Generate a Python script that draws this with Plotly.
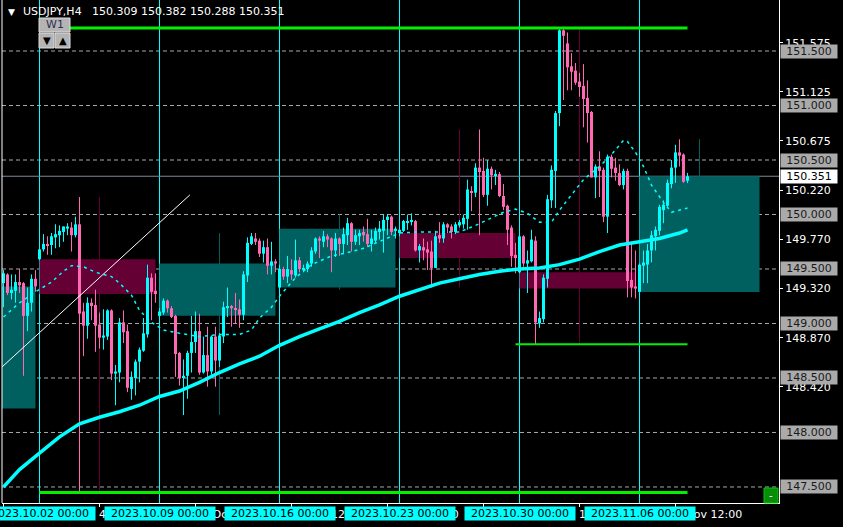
import plotly.graph_objects as go

# ---------------- data (USDJPY H4) ----------------
bar_index = list(range(-9, 163))   # bar 0 = 2023.10.02 00:00, 6 bars/day, 30 bars/week

opens = [
149.37,149.45,149.28,149.30,149.38,149.37,149.07,149.19,149.41,
149.59,149.68,149.73,149.72,149.79,149.81,149.84,149.87,149.88,149.81,
149.91,149.11,148.98,149.19,149.17,148.99,148.87,148.88,149.12,148.54,
148.55,149.01,148.93,148.40,148.50,148.65,148.75,148.90,149.42,149.30,
149.07,149.10,149.21,149.14,149.07,148.73,148.50,148.52,148.73,148.83,
148.93,148.55,148.71,148.56,148.88,148.66,148.88,149.14,149.16,149.14,
149.13,149.08,149.44,149.73,149.78,149.76,149.64,149.70,149.53,149.57,
149.33,149.50,149.43,149.49,149.44,149.58,149.49,149.50,149.55,149.66,
149.78,149.75,149.80,149.78,149.67,149.78,149.73,149.81,149.92,149.75,
149.80,149.84,149.82,149.73,149.76,149.84,149.85,149.95,149.98,149.85,
149.83,149.85,149.93,149.94,149.94,149.67,149.70,149.68,149.66,149.51,
149.81,149.78,149.91,149.89,149.84,149.90,149.91,149.96,150.21,150.20,
150.43,150.40,150.18,150.42,150.36,150.37,150.17,150.08,149.88,149.63,
149.47,149.80,149.55,149.57,149.76,149.00,149.04,149.41,150.13,150.40,
150.93,151.69,151.57,151.36,151.32,151.22,151.18,151.07,150.94,150.34,
150.44,150.41,149.98,150.53,150.43,150.38,150.27,150.40,149.40,149.34,
149.29,149.53,149.54,149.67,149.80,149.85,150.04,150.08,150.28,150.43,
150.57,150.55,150.309]

highs = [
149.49,149.46,149.45,149.45,149.50,149.38,149.33,149.45,149.49,
149.69,149.82,149.80,149.83,149.91,149.90,149.89,149.92,149.93,149.98,
150.16,149.19,149.24,149.23,149.31,149.10,149.13,149.13,149.13,148.62,
149.05,149.12,148.99,148.56,148.67,148.78,149.05,149.54,149.46,149.46,
149.14,149.23,149.22,149.16,149.08,148.74,148.67,148.75,149.07,149.11,
149.09,148.88,148.97,148.89,148.97,148.91,149.20,149.33,149.17,149.28,
149.22,149.48,149.79,149.83,149.83,149.78,149.76,149.78,149.75,149.59,
149.54,149.52,149.62,149.59,149.77,149.61,149.54,149.57,149.70,149.79,
149.80,149.85,149.82,149.79,149.83,149.79,149.88,149.97,149.93,149.86,
149.86,149.89,149.96,149.86,149.88,149.94,150.00,150.00,149.99,149.89,
149.88,149.95,150.00,150.01,149.95,149.73,149.78,149.75,149.76,149.85,
149.93,149.93,149.92,149.91,149.93,149.95,150.00,150.32,150.26,150.47,
150.78,150.52,150.50,150.44,150.41,150.39,150.28,150.09,149.90,149.74,
149.81,149.81,149.67,149.86,149.80,149.11,149.45,150.18,150.45,150.95,
151.70,151.70,151.67,151.48,151.39,151.30,151.38,151.23,150.95,150.46,
150.58,150.43,150.55,150.55,150.52,150.46,150.42,150.42,149.75,149.67,
149.55,149.67,149.73,149.85,149.89,150.09,150.13,150.32,150.50,150.64,
150.69,150.56,150.382]

lows = [
149.15,149.26,149.22,149.19,149.28,148.52,148.93,149.11,149.29,
149.58,149.66,149.63,149.63,149.69,149.70,149.75,149.81,149.66,149.79,
147.45,148.70,148.86,149.03,148.74,148.77,148.76,148.85,148.48,148.25,
148.46,148.82,148.37,148.30,148.34,148.46,148.74,148.87,149.03,149.19,
149.05,149.08,149.10,149.05,148.51,148.43,148.16,148.31,148.55,148.73,
148.53,148.54,148.42,148.53,148.42,148.60,148.82,149.06,148.97,149.00,
148.96,149.03,149.38,149.72,149.72,149.61,149.56,149.45,149.45,149.47,
149.31,149.40,149.37,149.40,149.42,149.47,149.47,149.47,149.52,149.64,
149.60,149.70,149.70,149.47,149.61,149.62,149.64,149.72,149.66,149.72,
149.72,149.75,149.70,149.66,149.74,149.77,149.65,149.81,149.81,149.78,
149.80,149.84,149.86,149.90,149.66,149.56,149.58,149.49,149.33,149.51,
149.74,149.74,149.83,149.78,149.82,149.88,149.87,149.86,150.03,150.16,
149.81,150.16,150.08,150.23,150.27,150.16,150.04,149.72,149.52,149.46,
149.46,149.52,149.28,149.56,148.81,148.96,149.01,149.33,150.06,150.06,
150.81,151.05,151.14,151.14,151.19,151.08,150.80,150.66,150.34,150.15,
150.16,149.93,149.83,150.34,150.31,150.26,150.23,149.24,149.24,149.23,
149.29,149.37,149.37,149.56,149.67,149.81,149.92,150.07,150.24,150.29,
150.44,150.29,150.288]

closes = [
149.46,149.28,149.31,149.38,149.35,149.07,149.19,149.41,149.34,
149.68,149.73,149.72,149.80,149.82,149.85,149.89,149.89,149.81,149.91,
149.09,148.98,149.19,149.16,148.98,148.87,148.89,149.12,148.54,148.56,
149.01,148.92,148.41,148.51,148.65,148.76,148.91,149.42,149.29,149.27,
149.11,149.21,149.14,149.06,148.72,148.50,148.52,148.73,148.83,148.93,
148.55,148.71,148.56,148.88,148.66,148.89,149.15,149.16,149.14,149.13,
149.08,149.45,149.74,149.80,149.75,149.64,149.70,149.53,149.57,149.55,
149.50,149.43,149.50,149.45,149.58,149.50,149.51,149.55,149.67,149.78,
149.76,149.80,149.77,149.67,149.78,149.73,149.82,149.92,149.75,149.81,
149.83,149.81,149.73,149.78,149.85,149.87,149.95,149.98,149.84,149.87,
149.86,149.94,149.94,149.95,149.67,149.71,149.67,149.65,149.51,149.80,
149.78,149.91,149.88,149.84,149.91,149.93,149.97,150.23,150.20,150.43,
150.39,150.18,150.42,150.36,150.37,150.17,150.07,149.86,149.62,149.60,
149.80,149.55,149.58,149.77,149.01,149.05,149.42,150.14,150.41,150.93,
151.69,151.64,151.35,151.31,151.21,151.17,151.06,150.93,150.34,150.44,
150.40,149.98,150.53,150.42,150.38,150.27,150.40,149.39,149.33,149.32,
149.54,149.56,149.67,149.81,149.86,150.07,150.09,150.29,150.43,150.57,
150.54,150.30,150.351]

# slow moving average (thick)
ma_slow_bar = [-9,-5,0,5,10,15,20,25,30,35,40,45,50,55,60,65,70,75,80,85,90,95,100,105,110,115,120,125,130,135,140,145,150,155,160,162]
ma_slow_val = [147.50,147.66,147.81,147.96,148.08,148.14,148.19,148.25,148.33,148.38,148.46,148.55,148.63,148.70,148.80,148.88,148.95,149.02,149.10,149.17,149.25,149.31,149.37,149.41,149.45,149.48,149.50,149.51,149.54,149.59,149.66,149.72,149.75,149.78,149.83,149.86]

# fast moving average (dashed)
ma_fast_bar = [-9,-5,-1,3,6,8,11,14,18,20,23,25,28,31,35,40,45,50,53,55,58,60,64,68,73,77,81,85,90,95,100,105,109,113,116,119,122,125,128,130,134,136,140,143,146,147,149,151,153,156,158,160,162]
ma_fast_val = [149.06,149.19,149.29,149.38,149.48,149.53,149.52,149.47,149.43,149.37,149.26,149.12,149.01,148.94,148.91,148.88,148.90,148.90,148.94,149.05,149.15,149.25,149.42,149.54,149.62,149.65,149.69,149.75,149.83,149.84,149.84,149.84,149.90,149.97,150.02,150.05,150.01,149.93,149.93,150.04,150.23,150.32,150.44,150.55,150.68,150.67,150.57,150.44,150.27,150.11,150.02,150.04,150.06]

week_start_bars = [-30, 0, 30, 60, 90, 120, 150]
week_labels = ["", "2023.10.02 00:00", "2023.10.09 00:00", "2023.10.16 00:00",
               "2023.10.23 00:00", "2023.10.30 00:00", "2023.11.06 00:00"]
prev_week_open = 148.22

time_tick_bars = [-9, 15, 39, 63, 87, 111, 135, 159]
time_tick_labels = ["28 Sep 12:00", "4 Oct 12:00", "10 Oct 12:00", "16 Oct 12:00",
                    "20 Oct 12:00", "26 Oct 12:00", "1 Nov 12:00", "7 Nov 12:00"]

price_ticks = [151.575, 151.125, 150.675, 150.220, 149.770, 149.320, 148.870, 148.420]
round_levels = [151.5, 151.0, 150.5, 150.0, 149.5, 149.0, 148.5, 148.0, 147.5]

range_high = 151.71
range_low = 147.45
week5_low = 148.81
trend_bar = [-9.4, 37.6]
trend_val = [148.60, 150.18]

last_price = closes[-1]

# ---------------- styling ----------------
UP = "#00FFFF"
DN = "#FF69B4"
TEAL = "#005F5F"
MAROON = "#640034"
FONT = "DejaVu Sans"

X0, X1 = -9.375, 184.875
Y0, Y1 = 147.353, 151.968

fig = go.Figure()
shapes = []
annotations = []

def px_x(p):   # pixel -> paper x
    return (p - 2) / 777.0

def px_y(p):   # pixel -> paper y
    return (503 - p) / 503.0

# weekly candles (box = open/close, line = high/low)
for wi, s in enumerate(week_start_bars):
    idx = [i for i, k in enumerate(bar_index) if s <= k < s + 30]
    if not idx:
        continue
    o = prev_week_open if s < bar_index[0] else opens[idx[0]]
    c = closes[idx[-1]]
    h = max(highs[i] for i in idx)
    l = min(lows[i] for i in idx)
    col = TEAL if c >= o else MAROON
    end = s + 30 if bar_index[idx[-1]] < s + 29 else s + 29
    if s >= bar_index[0]:
        shapes.append(dict(type="line", xref="x", yref="y", x0=s + 15, x1=s + 15, y0=l, y1=h,
                           line=dict(color=col, width=1), layer="below"))
    shapes.append(dict(type="rect", xref="x", yref="y", x0=s, x1=end, y0=o, y1=c,
                       fillcolor=col, line=dict(width=0), layer="below"))

# round level dashed lines
for lv in round_levels:
    shapes.append(dict(type="line", xref="paper", yref="y", x0=0, x1=1, y0=lv, y1=lv,
                       line=dict(color="#A8A8A8", width=1, dash="4px,3px"), layer="below"))

# week separators
for s in week_start_bars[1:]:
    shapes.append(dict(type="line", xref="x", yref="paper", x0=s, x1=s, y0=0, y1=1,
                       line=dict(color=UP, width=1), layer="below"))

# current price line
shapes.append(dict(type="line", xref="paper", yref="y", x0=0, x1=1, y0=last_price, y1=last_price,
                   line=dict(color="#7F8C9D", width=1), layer="below"))

# left border
shapes.append(dict(type="line", xref="paper", yref="paper", x0=0, x1=0, y0=0, y1=1,
                   line=dict(color="white", width=1)))

# candle wicks
for up in (True, False):
    xs, ys = [], []
    for k, o, h, l, c in zip(bar_index, opens, highs, lows, closes):
        if (c >= o) == up:
            xs += [k, k, None]
            ys += [l, h, None]
    fig.add_trace(go.Scatter(x=xs, y=ys, mode="lines", line=dict(color=UP if up else DN, width=1),
                             hoverinfo="skip", cliponaxis=True))

# candle bodies
bases = [min(o, c) for o, c in zip(opens, closes)]
heights = [max(abs(c - o), 0.009) for o, c in zip(opens, closes)]
colors = [UP if c >= o else DN for o, c in zip(opens, closes)]
fig.add_trace(go.Bar(x=bar_index, y=heights, base=bases, width=0.75,
                     marker=dict(color=colors, line=dict(width=0)), hoverinfo="skip"))

# moving averages
fig.add_trace(go.Scatter(x=ma_fast_bar, y=ma_fast_val, mode="lines",
                         line=dict(color=UP, width=1.5, dash="3px,4px"), hoverinfo="skip"))
fig.add_trace(go.Scatter(x=ma_slow_bar, y=ma_slow_val, mode="lines",
                         line=dict(color=UP, width=3.5), hoverinfo="skip"))

# range lines
fig.add_trace(go.Scatter(x=[0, bar_index[-1]], y=[range_high, range_high], mode="lines",
                         line=dict(color="#00F000", width=3), hoverinfo="skip"))
fig.add_trace(go.Scatter(x=[0, bar_index[-1]], y=[range_low, range_low], mode="lines",
                         line=dict(color="#00F000", width=3), hoverinfo="skip"))
fig.add_trace(go.Scatter(x=[119, bar_index[-1]], y=[week5_low, week5_low], mode="lines",
                         line=dict(color="#00F000", width=2), hoverinfo="skip"))

# trend line
fig.add_trace(go.Scatter(x=trend_bar, y=trend_val, mode="lines",
                         line=dict(color="white", width=1), hoverinfo="skip"))

# price level boxes
for lv in round_levels:
    annotations.append(dict(xref="paper", yref="y", x=px_x(809), y=lv, text=f"{lv:.3f}",
                            showarrow=False, xanchor="center", yanchor="middle",
                            width=56, height=13, borderpad=0, bgcolor="#AAAAAA",
                            font=dict(family=FONT, size=11, color="#1A1A1A")))
annotations.append(dict(xref="paper", yref="y", x=px_x(809), y=last_price, text=f"{last_price:.3f}",
                        showarrow=False, xanchor="center", yanchor="middle",
                        width=56, height=13, borderpad=0, bgcolor="white",
                        font=dict(family=FONT, size=11, color="black")))

# time axis labels
for k, t in zip(time_tick_bars, time_tick_labels):
    annotations.append(dict(xref="x", yref="paper", x=k - 0.5, y=px_y(514), text=t,
                            showarrow=False, xanchor="left", yanchor="middle", borderpad=0,
                            font=dict(family=FONT, size=11, color="white")))
for s, lab in zip(week_start_bars, week_labels):
    if not lab:
        continue
    annotations.append(dict(xref="x", yref="paper", x=s, y=px_y(513.5), text=lab,
                            showarrow=False, xanchor="center", yanchor="middle",
                            width=110, height=13, borderpad=0, bgcolor="#00FFFF",
                            font=dict(family=FONT, size=11, color="black")))

# header
annotations.append(dict(xref="paper", yref="paper", x=px_x(6), y=px_y(12), text="▼",
                        showarrow=False, xanchor="left", yanchor="middle",
                        font=dict(family=FONT, size=9, color="white")))
annotations.append(dict(xref="paper", yref="paper", x=px_x(21), y=px_y(12),
                        text="USDJPY,H4\u00a0\u00a0 150.309 150.382 150.288 150.351",
                        showarrow=False, xanchor="left", yanchor="middle",
                        font=dict(family=FONT, size=11, color="white")))

# W1 buttons
for (a, b, c, d) in [(39, 18, 70, 32), (39, 33, 54, 48), (55, 33, 70, 48)]:
    shapes.append(dict(type="rect", xref="paper", yref="paper", x0=px_x(a), x1=px_x(c),
                       y0=px_y(d), y1=px_y(b), fillcolor="#B4B4B4",
                       line=dict(color="#DCDCDC", width=1)))
annotations.append(dict(xref="paper", yref="paper", x=px_x(54.5), y=px_y(25), text="W1",
                        showarrow=False, xanchor="center", yanchor="middle",
                        font=dict(family=FONT, size=11, color="#303050")))
annotations.append(dict(xref="paper", yref="paper", x=px_x(46.5), y=px_y(40.5), text="▼",
                        showarrow=False, xanchor="center", yanchor="middle",
                        font=dict(family=FONT, size=10, color="black")))
annotations.append(dict(xref="paper", yref="paper", x=px_x(62.5), y=px_y(40.5), text="▲",
                        showarrow=False, xanchor="center", yanchor="middle",
                        font=dict(family=FONT, size=10, color="black")))

# green minimise button
shapes.append(dict(type="rect", xref="paper", yref="paper", x0=px_x(764), x1=px_x(778),
                   y0=px_y(503), y1=px_y(488), fillcolor="#0A8C0A",
                   line=dict(color="#00C800", width=1)))
annotations.append(dict(xref="paper", yref="paper", x=px_x(771), y=px_y(495.5), text="-",
                        showarrow=False, xanchor="center", yanchor="middle",
                        font=dict(family=FONT, size=10, color="white")))

fig.update_layout(
    width=843, height=527,
    margin=dict(l=2, r=64, t=0, b=24),
    paper_bgcolor="black", plot_bgcolor="black",
    showlegend=False, hovermode=False, barmode="overlay",
    shapes=shapes, annotations=annotations,
    font=dict(family=FONT, size=11, color="white"),
    xaxis=dict(range=[X0, X1], showgrid=False, zeroline=False, showline=True,
               linecolor="white", linewidth=1, ticks="outside", ticklen=3, tickcolor="white",
               tickvals=time_tick_bars, showticklabels=False, fixedrange=True),
    yaxis=dict(range=[Y0, Y1], side="right", showgrid=False, zeroline=False, showline=True,
               linecolor="white", linewidth=1, ticks="outside", ticklen=3, tickcolor="white",
               tickvals=price_ticks, ticktext=[f"{v:.3f}" for v in price_ticks],
               tickfont=dict(family=FONT, size=11, color="white"), fixedrange=True),
)

fig.write_html("out.html", config={"displayModeBar": False},
               post_script="document.body.style.margin='0';document.body.style.background='black';document.body.style.overflow='hidden';")
